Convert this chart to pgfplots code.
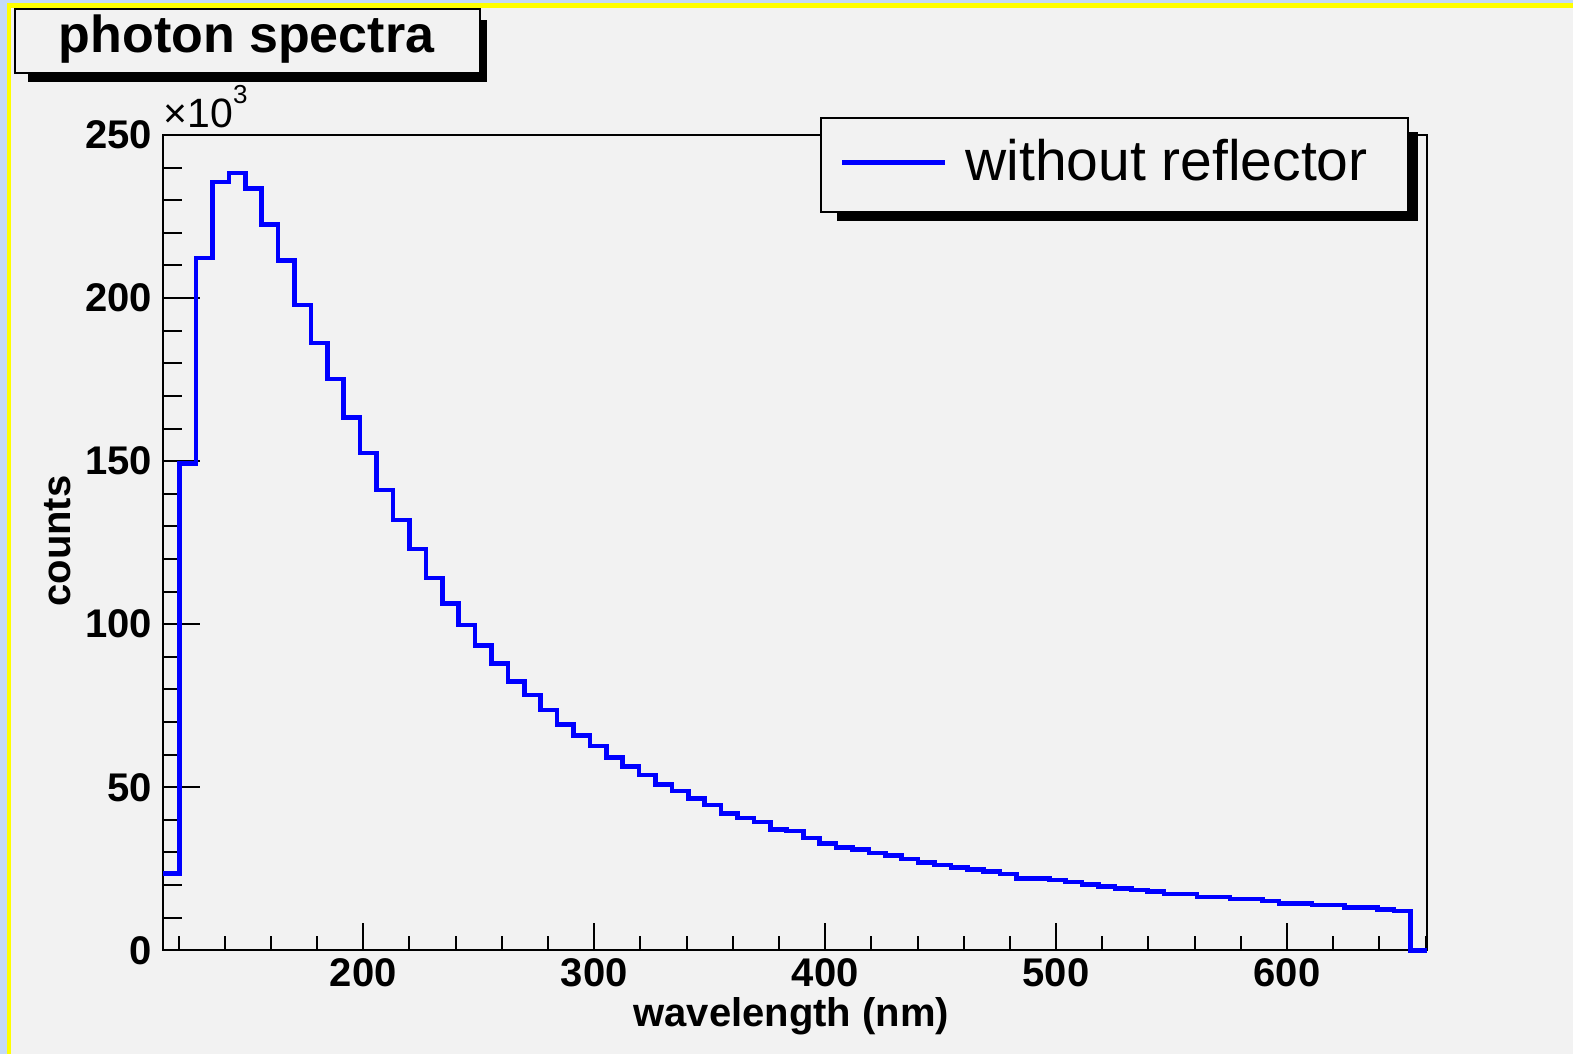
\documentclass[border=0pt]{standalone}
\usepackage{pgfplots}
\pgfplotsset{compat=1.18}
\usepackage{pgfplotstable}
\usepackage{fontspec}
\setmainfont{Liberation Sans}

\definecolor{canvas}{RGB}{242,242,242}
\definecolor{rootblue}{RGB}{0,0,255}
\definecolor{edgeblue}{RGB}{196,218,247}
\definecolor{edgeyellow}{RGB}{255,255,0}

% bin low edges (nm) and counts (x10^3)
\pgfplotstableread{
lo counts
113.40 23.6
120.51 149.2
127.61 212.3
134.72 235.6
141.82 238.3
148.93 233.5
156.03 222.5
163.14 211.5
170.24 197.9
177.35 186.2
184.45 175.2
191.56 163.4
198.66 152.5
205.77 141.2
212.87 132.0
219.98 123.1
227.08 114.1
234.19 106.4
241.29 99.8
248.40 93.4
255.50 88.0
262.61 82.4
269.71 78.3
276.82 73.7
283.92 69.3
291.03 65.8
298.13 62.7
305.24 59.2
312.34 56.4
319.45 53.8
326.55 50.9
333.66 48.8
340.76 46.6
347.87 44.6
354.97 42.0
362.08 40.6
369.18 39.3
376.29 37.1
383.39 36.6
390.50 34.4
397.60 32.8
404.71 31.6
411.81 31.0
418.92 29.8
426.02 29.0
433.13 28.0
440.23 27.0
447.34 26.2
454.44 25.4
461.55 24.7
468.65 24.1
475.76 23.4
482.86 22.1
489.97 22.1
497.07 21.6
504.18 20.9
511.28 20.2
518.39 19.5
525.49 19.0
532.60 18.5
539.70 18.0
546.81 17.3
553.91 17.3
561.02 16.4
568.12 16.4
575.23 15.7
582.33 15.7
589.44 15.1
596.54 14.4
603.65 14.4
610.75 13.9
617.86 13.9
624.96 13.2
632.07 13.2
639.17 12.6
646.28 12.0
653.38 0
660.49 0
}\spectrum

\pgfplotsset{root frame/.style={
    scale only axis, width=631.7pt, height=407.65pt,
    at={(81.65pt,51.85pt)}, anchor=south west,
    xmin=113.4, xmax=660.49, ymin=0, ymax=250,
    axis line style={line width=1pt},
    tick style={black, line width=1pt},
    tick align=inside, tick pos=left,
    /pgf/number format/assume math mode=true,
    ticklabel style={font=\bfseries\fontsize{20}{20}\selectfont},
}}

\begin{document}
\begin{tikzpicture}
% canvas and window edge
\begin{scope}[x=0.5pt,y=0.5pt]
  \fill[canvas] (0,0) rectangle (1573,1054);
  \fill[edgeblue] (0,0) rectangle (6.5,1054);
  \fill[edgeblue] (0,1051) rectangle (1573,1054);
  \fill[edgeyellow] (6.5,0) rectangle (11,1051);
  \fill[edgeyellow] (6.5,1046) rectangle (1573,1051);
\end{scope}

% x ticks
\begin{axis}[root frame,
    xtick={200,300,...,600}, minor xtick={120,140,...,660},
    ytick=\empty,
    major tick length=13.5pt, minor tick length=7pt,
    xticklabel style={inner sep=0pt, anchor=north, yshift=-4pt},
    xlabel={wavelength (nm)},
    xlabel style={at={(axis description cs:0.497,-0.0936)}, anchor=base,
                  font=\bfseries\fontsize{20}{20}\selectfont},
]
\end{axis}

% y ticks and histogram
\begin{axis}[root frame,
    xtick=\empty,
    ytick={0,50,...,250}, minor ytick={10,20,...,240},
    major tick length=18.5pt, minor tick length=9.5pt,
    yticklabel style={inner sep=0pt, anchor=east, xshift=-5.5pt},
    ylabel={counts},
    ylabel style={at={(axis description cs:-0.0738,0.502)}, anchor=base,
                  font=\bfseries\fontsize{20}{20}\selectfont},
    clip=false,
]
\addplot[const plot mark left, rootblue, line width=2.3pt, line join=miter]
    table[x=lo, y=counts] {\spectrum};
\node[anchor=base west, inner sep=0pt, yshift=3.5pt,
      font=\fontsize{20.5}{20.5}\selectfont]
    at (rel axis cs:0,1) {×10\raisebox{0.6em}{\fontsize{13}{13}\selectfont 3}};
\end{axis}

% title and legend boxes
\begin{scope}[x=0.5pt,y=0.5pt]
  \fill[black] (28,972.3) rectangle (486.7,1034);
  \filldraw[fill=canvas, draw=black, line width=1pt] (15,980.7) rectangle (480,1044.7);
  \node[anchor=base, inner sep=0pt, font=\bfseries\fontsize{26}{26}\selectfont]
      at (246.5,1001.5) {photon spectra};

  \fill[black] (837,833.3) rectangle (1418,922.3);
  \filldraw[fill=canvas, draw=black, line width=1pt] (821,842) rectangle (1408,936);
  \draw[rootblue, line width=2.3pt] (842,891.7) -- (945,891.7);
  \node[anchor=base west, inner sep=0pt, font=\fontsize{28.5}{28.5}\selectfont]
      at (965,873) {without reflector};
\end{scope}
\end{tikzpicture}
\end{document}
